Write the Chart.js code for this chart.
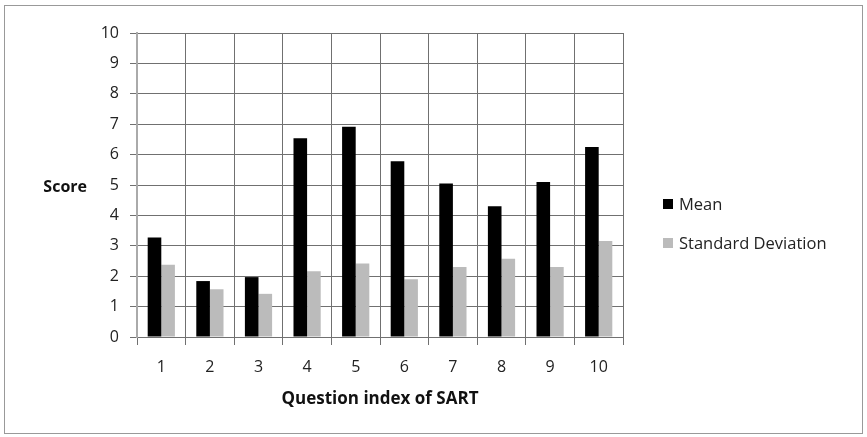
<!DOCTYPE html>
<html lang="en">
  <head>
    <meta charset="utf-8" />
    <title>SART scores</title>
    <style>
      body { margin: 0; background: #fff; }
      .wrap { position: relative; width: 867px; height: 437px; }
      .frame { position: absolute; left: 4px; top: 5px; width: 859px; height: 429px; border: 1px solid #999; box-sizing: border-box; }
      canvas { position: absolute; left: 0; top: 0; }
    </style>
  </head>
  <body>

<div class="wrap">
  <div class="frame"></div>
  <canvas id="sartChart" width="867" height="437"></canvas>
</div>

<script src="https://cdn.jsdelivr.net/npm/chart.js@4.4.0/dist/chart.umd.min.js"></script>

<script>
// values
const questions = ['1', '2', '3', '4', '5', '6', '7', '8', '9', '10']
const meanScores = [3.27, 1.84, 1.97, 6.54, 6.92, 5.78, 5.05, 4.3, 5.1, 6.25]
const stdScores = [2.38, 1.57, 1.42, 2.16, 2.42, 1.9, 2.3, 2.57, 2.3, 3.16]

const fontFamily = "'Open Sans', sans-serif"

// legend and horizontal "Score" label, drawn the way the spreadsheet did
const extras = {
  id: 'extras',
  afterDraw(chart) {
    const ctx = chart.ctx
    const area = chart.chartArea
    ctx.save()
    ctx.fillStyle = '#111'
    ctx.font = "bold 16px " + fontFamily
    ctx.textBaseline = 'middle'
    ctx.textAlign = 'right'
    ctx.fillText('Score', 87, (area.top + area.bottom) / 2 + 2)

    ctx.textAlign = 'left'
    ctx.font = "16.5px " + fontFamily
    chart.data.datasets.forEach(function (ds, i) {
      const y = 205 + i * 39
      ctx.fillStyle = ds.backgroundColor
      ctx.fillRect(area.right + 40, y - 6, 10, 10)
      ctx.fillStyle = '#222'
      ctx.fillText(ds.label, area.right + 56, y)
    })
    ctx.restore()
  }
}

const ctx = document.getElementById('sartChart').getContext('2d')

new Chart(ctx, {
  type: 'bar',
  data: {
    labels: questions,
    datasets: [
      { label: 'Mean', data: meanScores, backgroundColor: '#000000' },
      { label: 'Standard Deviation', data: stdScores, backgroundColor: '#bbbbbb' }
    ]
  },
  options: {
    responsive: false,
    animation: false,
    layout: { padding: { top: 33, right: 244, bottom: 0, left: 0 } },
    categoryPercentage: 0.56,
    barPercentage: 1.0,
    plugins: {
      legend: { display: false },
      tooltip: { enabled: false }
    },
    scales: {
      x: {
        afterFit: function (scale) { scale.height = 100 },
        grid: { color: '#707070', lineWidth: 1, tickLength: 8, offset: true },
        border: { color: '#707070' },
        ticks: { color: '#222', font: { family: fontFamily, size: 16 }, padding: 13 },
        title: {
          display: true,
          text: 'Question index of SART',
          color: '#111',
          font: { family: fontFamily, size: 17, weight: 'bold' },
          padding: { top: 4, bottom: 28 }
        }
      },
      y: {
        min: 0,
        max: 10,
        afterFit: function (scale) { scale.width = 137 },
        grid: { color: '#707070', lineWidth: 1, tickLength: 7 },
        border: { color: '#aaa', width: 2 },
        ticks: { stepSize: 1, color: '#222', font: { family: fontFamily, size: 16 }, padding: 11 }
      }
    }
  },
  plugins: [extras]
})
</script>
  </body>
</html>
